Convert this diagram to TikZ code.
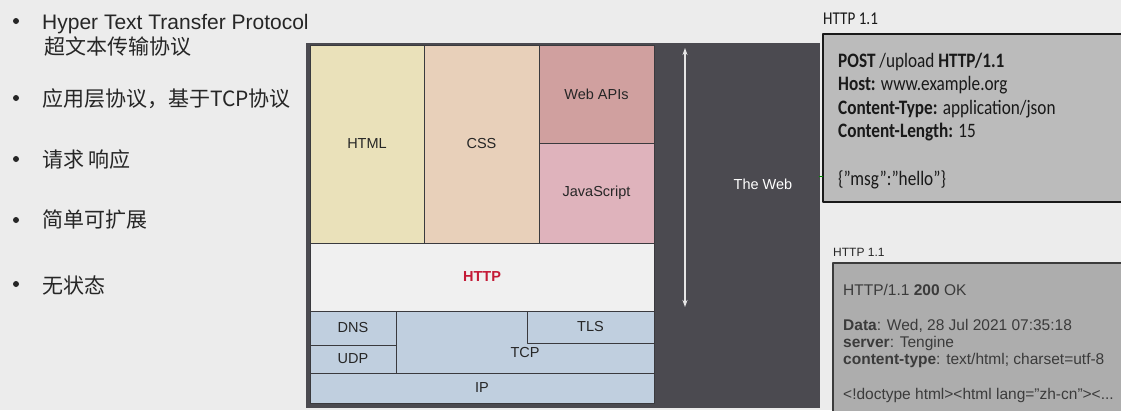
\documentclass[tikz,border=0pt]{standalone}
\usepackage{fontspec}
\setmainfont{Liberation Sans}
\newfontfamily\cjk{Noto Sans CJK SC}
\newfontfamily\condensed[FakeStretch=0.84]{Carlito}
\usetikzlibrary{arrows.meta}

\definecolor{pagebg}{HTML}{ECECEC}
\definecolor{panel}{HTML}{4B4A50}
\definecolor{layerline}{HTML}{3A3A3E}
\definecolor{htmlfill}{HTML}{EAE1BA}
\definecolor{cssfill}{HTML}{E8D0BA}
\definecolor{apifill}{HTML}{D0A09F}
\definecolor{jsfill}{HTML}{DFB3BC}
\definecolor{httpfill}{HTML}{F0F0F0}
\definecolor{netfill}{HTML}{C0CFDF}
\definecolor{httpred}{HTML}{C41A36}
\definecolor{reqfill}{HTML}{BBBBBB}
\definecolor{resfill}{HTML}{ADADAD}
\definecolor{restext}{HTML}{3B3B3B}

\tikzset{
  layer/.style={draw=layerline, line width=0.8pt},
  layerlabel/.style={font=\fontsize{14.5}{17}\selectfont, text=black!85},
  dot/.style={circle, fill=black!85, inner sep=0pt, minimum size=6pt},
  item/.style={anchor=west, inner sep=0pt, font=\cjk\fontsize{21}{25}\selectfont, text=black!85},
  reqline/.style={anchor=base west, inner sep=0pt, font=\condensed\fontsize{20.5}{24}\selectfont, text=black!90},
  resline/.style={anchor=base west, inner sep=0pt, font=\fontsize{15.5}{18}\selectfont, text=restext},
}

\begin{document}
\begin{tikzpicture}[x=1pt, y=-1pt, line join=round]
\useasboundingbox (0,0) rectangle (1121,410);
\clip (0,0) rectangle (1121,410);
\fill[pagebg] (0,0) rectangle (1121,410);

% Bullet list
\node[dot] (d1) at (16,21) {};
\node[anchor=base west, inner sep=0pt, font=\fontsize{21}{25}\selectfont, text=black!85] (t1) at (42,29.5) {Hyper Text Transfer Protocol};
\node[item] (t1b) at (44,47) {超文本传输协议};
\node[dot] (d2) at (16,98) {};
\node[item] (t2) at (42,99) {应用层协议，基于TCP协议};
\node[dot] (d3) at (16,159) {};
\node[item] (t3) at (42,160) {请求 响应};
\node[dot] (d4) at (16,220) {};
\node[item] (t4) at (42,220) {简单可扩展};
\node[dot] (d5) at (16,284) {};
\node[item] (t5) at (42,285) {无状态};

% The web stack
\fill[panel] (306,43) rectangle (820,408);
\draw[layer, fill=htmlfill] (310,45) rectangle (424,243) node[midway, layerlabel] (html) {HTML};
\draw[layer, fill=cssfill] (424,45) rectangle (539,243) node[midway, layerlabel] (css) {CSS};
\draw[layer, fill=apifill] (539,45) rectangle (654,143) node[midway, layerlabel] (api) {Web APIs};
\draw[layer, fill=jsfill] (539,143) rectangle (654,243) node[midway, layerlabel] (js) {JavaScript};
\draw[layer, fill=httpfill] (310,243) rectangle (654,311) node[midway, layerlabel, font=\bfseries\fontsize{14.5}{17}\selectfont, text=httpred] (http) {HTTP};
\draw[layer, fill=netfill] (310,311) rectangle (396,345) node[midway, layerlabel] (dns) {DNS};
\draw[layer, fill=netfill] (310,345) rectangle (396,373) node[midway, layerlabel] (udp) {UDP};
\draw[layer, fill=netfill] (396,311) rectangle (654,373);
\node[layerlabel] (tcp) at (525,353) {TCP};
\draw[layer, fill=netfill] (527,311) rectangle (654,343) node[midway, layerlabel] (tls) {TLS};
\draw[layer, fill=netfill] (310,373) rectangle (654,403) node[midway, layerlabel] (ip) {IP};

% Span of the web
\coordinate (webtop) at (685,48);
\coordinate (webbottom) at (685,307);
\draw[{Stealth[length=7pt, width=5pt]}-{Stealth[length=7pt, width=5pt]}, line width=1.2pt, white!90!black] (webtop) -- (webbottom);
\node[font=\fontsize{14.5}{17}\selectfont, text=white] (web) at (763,184) {The Web};

% Request
\node[anchor=west, inner sep=0pt, font=\condensed\fontsize{18}{21}\selectfont, text=black!90] (reqtitle) at (823,19) {HTTP 1.1};
\draw[fill=reqfill, draw=black!90, line width=2pt] (823,34) rectangle (1140,202);
\node[reqline] (req1) at (838,67) {\textbf{POST} /upload \textbf{HTTP/1.1}};
\node[reqline] (req2) at (838,90.5) {\textbf{Host:} www.example.org};
\node[reqline] (req3) at (838,114) {\textbf{Content-Type:} application/json};
\node[reqline] (req4) at (838,137.5) {\textbf{Content-Length:} 15};
\node[reqline] (req5) at (838,185) {\{”msg”:”hello”\}};
\coordinate (panelside) at (819,176);
\coordinate (reqside) at (823,176);
\draw[green!55!black, line width=1pt] (panelside) -- (reqside);

% Response
\node[anchor=west, inner sep=0pt, font=\fontsize{12}{14}\selectfont, text=black!85] (restitle) at (833,252) {HTTP 1.1};
\draw[fill=resfill, draw=restext, line width=1.5pt] (833,263) rectangle (1140,430);
\node[resline] (res1) at (843,295) {HTTP/1.1 \textbf{200} OK};
\node[resline] (res2) at (843,330) {\textbf{Data}: Wed, 28 Jul 2021 07:35:18};
\node[resline] (res3) at (843,347) {\textbf{server}: Tengine};
\node[resline] (res4) at (843,364.5) {\textbf{content-type}: text/html; charset=utf-8};
\node[resline] (res5) at (843,399) {<!doctype html><html lang="zh-cn"><...};
\end{tikzpicture}
\end{document}
